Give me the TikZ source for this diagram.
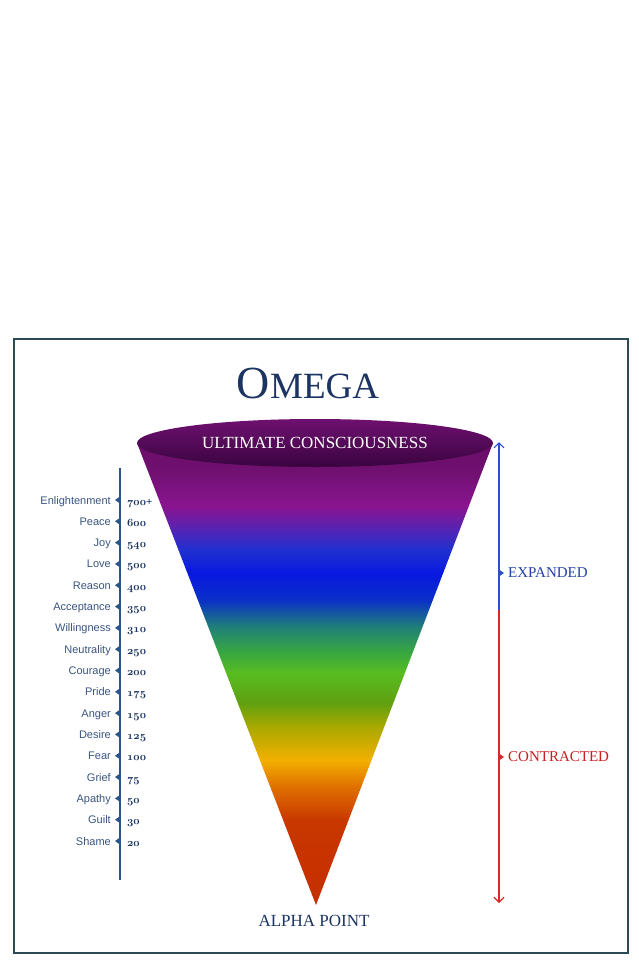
\documentclass[tikz,border=0pt]{standalone}
\usepackage{fontspec}
\setmainfont{Liberation Serif}
\setsansfont{Liberation Sans}
\usetikzlibrary{arrows.meta,shapes.geometric}

\definecolor{framecol}{HTML}{2B4A54}
\definecolor{titlenavy}{HTML}{1B3461}
\definecolor{scaleblue}{HTML}{2D5487}
\definecolor{lblcol}{HTML}{3A5580}
\definecolor{expblue}{HTML}{2B4FCF}
\definecolor{exptext}{HTML}{2440A8}
\definecolor{conred}{HTML}{D42A2A}
\definecolor{context}{HTML}{C81E1E}
\definecolor{rimtop}{HTML}{6E1070}
\definecolor{rimbot}{HTML}{3A0440}

% bands of the cone, bottom (alpha) to top (omega)
\definecolor{bandA}{HTML}{C43000}
\definecolor{bandB}{HTML}{C83200}
\definecolor{bandC}{HTML}{C83800}
\definecolor{bandD}{HTML}{E07000}
\definecolor{bandE}{HTML}{F2B000}
\definecolor{bandF}{HTML}{A8A800}
\definecolor{bandG}{HTML}{60A010}
\definecolor{bandH}{HTML}{58BC20}
\definecolor{bandI}{HTML}{38A840}
\definecolor{bandJ}{HTML}{208078}
\definecolor{bandK}{HTML}{0A30C8}
\definecolor{bandL}{HTML}{0818E0}
\definecolor{bandM}{HTML}{2030D0}
\definecolor{bandN}{HTML}{5A22B0}
\definecolor{bandO}{HTML}{8A1490}
\definecolor{bandP}{HTML}{701070}
\definecolor{bandQ}{HTML}{6A0E6A}

\pgfdeclareverticalshading{conebands}{100bp}{color(0bp)=(bandA); color(25bp)=(bandA);
  color(29.9bp)=(bandB); color(34.2bp)=(bandC); color(37.8bp)=(bandD); color(40.7bp)=(bandE);
  color(44.3bp)=(bandF); color(46.9bp)=(bandG); color(50.1bp)=(bandH); color(52.3bp)=(bandI);
  color(55.1bp)=(bandJ); color(58bp)=(bandK); color(60.9bp)=(bandL); color(63.4bp)=(bandM);
  color(65.9bp)=(bandN); color(68.1bp)=(bandO); color(72.1bp)=(bandP); color(75bp)=(bandQ);
  color(100bp)=(bandQ)}

% old style figures from the math italic font
\newcommand{\lvnum}[1]{{\fontsize{11}{11}\usefont{OML}{cmm}{b}{it}#1}}

\begin{document}
\begin{tikzpicture}[x=1pt,y=-1pt,
  lvl/.style={anchor=base east,inner sep=0pt,text=lblcol,font=\sffamily\fontsize{11}{11}\selectfont},
  lvlnum/.style={anchor=base west,inner sep=0pt,text=titlenavy,font=\fontsize{11}{11}\selectfont\bfseries},
  capstext/.style={inner sep=0pt,font=\fontsize{17}{17}\selectfont},
  sidetext/.style={anchor=west,inner sep=0pt,font=\fontsize{15}{15}\selectfont},
  sidearrow/.style={line width=1.2pt,-{Straight Barb[length=5pt,width=10pt]}}]
\useasboundingbox (0,0) rectangle (638,964);
\fill[white] (0,0) rectangle (638,964);

% Frame
\draw[framecol,line width=2.2pt] (14,339) rectangle (628,953);

% Title
\node[anchor=base,inner sep=0pt,text=titlenavy] (omega) at (308,398)
  {\fontsize{46}{46}\selectfont O\fontsize{37}{37}\selectfont MEGA};

% Cone
\coordinate (rimL) at (137,443);
\coordinate (rimR) at (493,443);
\coordinate (alpha) at (316,905);
\shade[shading=conebands] (rimL) -- (alpha) -- (rimR) -- cycle;

% Rim
\node[ellipse,minimum width=356pt,minimum height=48pt,inner sep=0pt,
  top color=rimtop,bottom color=rimbot,text=white,font=\fontsize{17}{17}\selectfont] (rim) at (315,443)
  {ULTIMATE CONSCIOUSNESS};

% Text Node
\node[capstext,text=titlenavy] (alphapt) at (314,921) {ALPHA POINT};

% Scale
\coordinate (scaletop) at (120,468);
\coordinate (scalebot) at (120,880);
\draw[scaleblue,line width=1.6pt] (scaletop) -- (scalebot);
\foreach \lbl/\val/\extra [count=\i from 0] in {Enlightenment/700/+,Peace/600/,Joy/540/,Love/500/,
    Reason/400/,Acceptance/350/,Willingness/310/,Neutrality/250/,Courage/200/,Pride/175/,
    Anger/150/,Desire/125/,Fear/100/,Grief/75/,Apathy/50/,Guilt/30/,Shame/20/}{
  \pgfmathsetmacro{\y}{500+21.3125*\i}
  \node[lvl] (lvl\i) at (111,\y+4) {\lbl};
  \node[lvlnum] (num\i) at (127,\y+5) {\lvnum{\val}\extra};
  \fill[scaleblue] (120,\y-3.5) -- (115,\y) -- (120,\y+3.5) -- cycle;
}

% Straight Lines
\coordinate (arrtop) at (499,442);
\coordinate (arrmid) at (499,610);
\coordinate (arrbot) at (499,903);
\draw[expblue,sidearrow] (arrmid) -- (arrtop);
\draw[conred,sidearrow] (arrmid) -- (arrbot);

% Text Node
\node[sidetext,text=exptext] (expanded) at (508,573) {EXPANDED};
\fill[expblue] (499,569.5) -- (504,573) -- (499,576.5) -- cycle;
% Text Node
\node[sidetext,text=context] (contracted) at (508,757) {CONTRACTED};
\fill[conred] (499,753.5) -- (504,757) -- (499,760.5) -- cycle;

\end{tikzpicture}
\end{document}
